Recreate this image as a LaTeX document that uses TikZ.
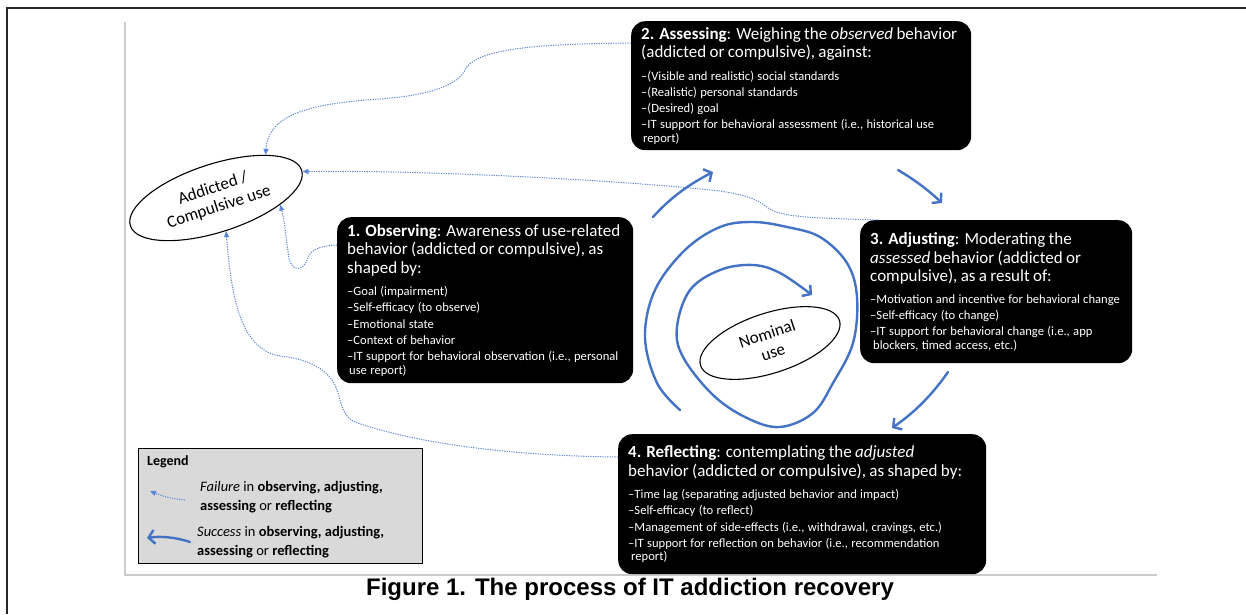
\documentclass[tikz,border=0pt]{standalone}
\usepackage{fontspec}
\setmainfont{Carlito}
\newfontfamily\capfont{Liberation Sans}
\usetikzlibrary{shapes.geometric,arrows.meta,calc}
\definecolor{succblue}{HTML}{4472C4}
\definecolor{failblue}{HTML}{5B86D6}
\definecolor{leggray}{HTML}{D9D9D9}
\definecolor{framegray}{HTML}{CCCCCC}
\newcommand\ttlsize{\fontsize{17pt}{18.5pt}\selectfont}
\newcommand\lstsize{\fontsize{12.6pt}{13.5pt}\selectfont}
\newcommand\nx{\\[2.7pt]}
\tikzset{
  blk/.style={fill=black, rounded corners=14pt, text=white, align=left, inner xsep=10pt, inner ysep=4pt, anchor=north west},
  fail/.style={draw=failblue, line width=1pt, dash pattern=on 1.2pt off 1.2pt, -{Triangle[length=6pt,width=5pt]}},
  succ/.style={draw=succblue, line width=2.4pt, line cap=round, -{Straight Barb[length=6pt,width=14pt]}},
  ell/.style={ellipse, draw=black, line width=1.1pt, inner sep=0pt, align=center},
  legtxt/.style={anchor=west, align=left, inner sep=0pt, font=\fontsize{14.5pt}{18.5pt}\selectfont}
}
\begin{document}
\begin{tikzpicture}[x=1pt,y=-1pt]
\useasboundingbox (0,0) rectangle (1246,614);
\fill[white] (0,0) rectangle (1246,614);
% frames
\draw[framegray, line width=1.2pt] (125,22) -- (125,575) -- (1157,575);
\draw[black!85, line width=2pt] (7,614) -- (7,8) -- (1246,8);

% boxes
\node[blk, text width=320pt, minimum height=129pt] (b2) at (631,21) {\ttlsize\mbox{\textbf{2. Assessing}: Weighing the \textit{observed} behavior}\\(addicted or compulsive), against:\par\vspace{9pt}\lstsize
\mbox{–(Visible and realistic) social standards}\nx
\mbox{–(Realistic) personal standards}\nx
\mbox{–(Desired) goal}\nx
\mbox{–IT support for behavioral assessment (i.e., historical use}\\
\hspace*{2pt}report)\par};

\node[blk, text width=276pt, minimum height=166pt] (b1) at (337,217) {\ttlsize\mbox{\textbf{1. Observing}: Awareness of use-related}\\\mbox{behavior (addicted or compulsive), as}\\shaped by:\par\vspace{9pt}\lstsize
\mbox{–Goal (impairment)}\nx
\mbox{–Self-efficacy (to observe)}\nx
\mbox{–Emotional state}\nx
\mbox{–Context of behavior}\nx
\mbox{–IT support for behavioral observation (i.e., personal}\\
\hspace*{2pt}use report)\par};

\node[blk, text width=252pt, minimum height=143pt] (b3) at (860,220) {\ttlsize\mbox{\textbf{3. Adjusting}: Moderating the}\\\mbox{\textit{assessed} behavior (addicted or}\\\mbox{compulsive), as a result of:}\par\vspace{8pt}\lstsize
\mbox{–Motivation and incentive for behavioral change}\nx
\mbox{–Self-efficacy (to change)}\nx
\mbox{–IT support for behavioral change (i.e., app}\\
\hspace*{3pt}blockers, timed access, etc.)\par};

\node[blk, text width=348pt, minimum height=140pt] (b4) at (618,434) {\ttlsize\mbox{\textbf{4. Reflecting}: contemplating the \textit{adjusted}}\\\mbox{behavior (addicted or compulsive), as shaped by:}\par\vspace{9pt}\lstsize
\mbox{–Time lag (separating adjusted behavior and impact)}\nx
\mbox{–Self-efficacy (to reflect)}\nx
\mbox{–Management of side-effects (i.e., withdrawal, cravings, etc.)}\nx
\mbox{–IT support for reflection on behavior (i.e., recommendation}\\
\hspace*{3pt}report)\par};

% ellipses
\node[ell, minimum width=180pt, minimum height=68pt, rotate=18, font=\fontsize{17pt}{19.5pt}\selectfont] (add) at (216,198) {Addicted /\\Compulsive use};
\node[ell, minimum width=146pt, minimum height=60pt, rotate=18, font=\fontsize{17pt}{19.5pt}\selectfont] (nom) at (770,343) {Nominal\\use};

% failure connectors
\coordinate (s1) at ($(b2.north west)+(0,22)$);
\draw[fail] (s1) .. controls (540,44) and (480,48) .. (466,68) .. controls (458,88) and (420,96) .. (380,99) .. controls (300,104) and (268,118) .. (add.23);
\coordinate (s2) at ($(b3.north west)+(18,0)$);
\draw[fail] (s2) .. controls (820,218) and (782,218) .. (768,208) .. controls (758,199) and (745,195) .. (720,191) .. controls (600,178) and (400,170) .. (add.-1);
\coordinate (s3) at ($(b1.north west)+(0,28)$);
\draw[fail] (s3) .. controls (318,246) and (310,250) .. (307,260) .. controls (304,270) and (292,273) .. (289,258) .. controls (286,240) and (285,222) .. (add.-24);
\coordinate (s4) at ($(b4.north west)+(0,23)$);
\draw[fail] (s4) .. controls (520,456) and (420,445) .. (355,422) .. controls (340,415) and (342,400) .. (335,385) .. controls (325,365) and (300,358) .. (280,356) .. controls (245,350) and (232,310) .. (add.-91);

% success arrows
\coordinate (a1s) at (653,217); \coordinate (a1e) at (713,172);
\draw[succ] (a1s) .. controls (672,196) and (690,184) .. (a1e);
\coordinate (a2s) at (898,170); \coordinate (a2e) at (942,203);
\draw[succ] (a2s) .. controls (915,180) and (928,190) .. (a2e);
\coordinate (a3s) at (948,372); \coordinate (a3e) at (892,428);
\draw[succ] (a3s) .. controls (932,395) and (915,412) .. (a3e);
\draw[succ] plot[smooth, tension=0.6] coordinates {(680,410) (657,383) (645,337) (655,290) (685,250) (720,227) (753,222) (787,227) (820,237) (847,263) (857,297) (853,343) (833,383) (813,413) (780,427) (747,418) (713,395) (683,357) (677,327) (690,290) (720,270) (753,265) (780,273) (812,295)};

% legend
\node[draw=black, line width=1.3pt, fill=leggray, minimum width=284pt, minimum height=115pt, anchor=north west, inner sep=0pt] (leg) at (138,448) {};
\node[anchor=west, inner sep=0pt, font=\bfseries\fontsize{14pt}{16pt}\selectfont] (legt) at (147,462) {Legend};
\node[legtxt] (lf) at (200,497) {\textit{Failure} in \textbf{observing, adjusting,}\\\textbf{assessing} or \textbf{reflecting}};
\node[legtxt] (ls) at (197,542) {\textit{Success} in \textbf{observing, adjusting,}\\\textbf{assessing} or \textbf{reflecting}};
\coordinate (lfs) at (185,500); \coordinate (lfe) at (150,491);
\draw[fail] (lfs) .. controls (172,499) and (162,496) .. (lfe);
\coordinate (lss) at (190,542); \coordinate (lse) at (147,538);
\draw[succ] (lss) .. controls (175,537) and (160,536) .. (lse);

% caption
\node[font=\capfont\bfseries\fontsize{24pt}{28pt}\selectfont] (cap) at (630,589) {Figure 1. The process of IT addiction recovery};
\end{tikzpicture}
\end{document}
